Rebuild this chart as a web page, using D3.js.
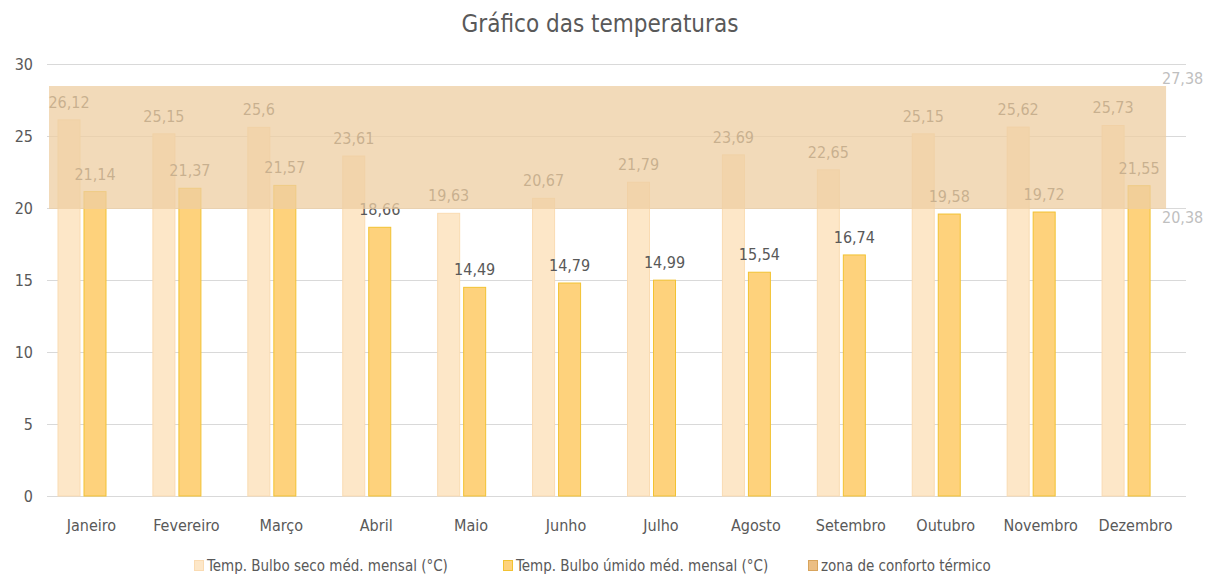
<!doctype html>
<html>
  <head>
    <meta charset="utf-8">
    <title>Gráfico das temperaturas</title>
    <script src="https://cdnjs.cloudflare.com/ajax/libs/d3/7.8.5/d3.min.js"></script>
    <style>
      body { margin: 0; background: #fff; }
      svg text { font-family: "Liberation Sans Narrow", "DejaVu Sans Condensed", "Open Sans", sans-serif; }
    </style>
  </head>
  <body>
    <div id="root"></div>
    <script>
      // data
      let months = ['Janeiro','Fevereiro','Março','Abril','Maio','Junho','Julho','Agosto','Setembro','Outubro','Novembro','Dezembro'];
      let bulboSeco = [26.12,25.15,25.6,23.61,19.63,20.67,21.79,23.69,22.65,25.15,25.62,25.73];
      let bulboUmido = [21.14,21.37,21.57,18.66,14.49,14.79,14.99,15.54,16.74,19.58,19.72,21.55];
      let zona = [20.38,27.38];
      let yTicks = [0,5,10,15,20,25,30];
      let legendNames = ['Temp. Bulbo seco méd. mensal (°C)','Temp. Bulbo úmido méd. mensal (°C)','zona de conforto térmico'];

      let width = 1213, height = 581,
      margin = {top:64,right:27,bottom:85,left:47};

      let fmt = d => String(d).replace('.', ',');

      let svg = d3.select('#root')
        .append('svg')
        .attr('width',width)
        .attr('height',height);

      //x scale by month
      let xScale = d3.scaleBand()
        .domain(months)
        .range([margin.left,width - margin.right]);

      //y scale
      let yScale = d3.scaleLinear()
        .domain([0,30])
        .range([height - margin.bottom, margin.top]);

      //secondary scale of the comfort zone
      let y2Scale = d3.scaleLinear()
        .domain(zona)
        .range([209,86]);

      //title
      svg.append('text')
        .attr('x',600)
        .attr('y',32)
        .attr('text-anchor','middle')
        .attr('font-size',24)
        .attr('fill','#595959')
        .text('Gráfico das temperaturas');

      //grid lines
      svg.append('g')
        .selectAll('line')
        .data(yTicks)
        .enter()
        .append('line')
        .attr('x1',margin.left)
        .attr('x2',width - margin.right)
        .attr('y1',d => yScale(d) + 0.5)
        .attr('y2',d => yScale(d) + 0.5)
        .attr('stroke','#d9d9d9');

      //y tick labels
      svg.append('g')
        .selectAll('text')
        .data(yTicks)
        .enter()
        .append('text')
        .attr('x',33)
        .attr('y',d => yScale(d))
        .attr('dy','0.35em')
        .attr('text-anchor','end')
        .attr('font-size',16)
        .attr('fill','#595959')
        .text(d => d);

      let bw = 22;
      let offSeco = 11, offUmido = 37;

      //dry bulb bars
      svg.append('g')
        .selectAll('rect')
        .data(bulboSeco)
        .enter()
        .append('rect')
        .attr('x',(d,i) => xScale(months[i]) + offSeco)
        .attr('y',d => yScale(d))
        .attr('width',bw)
        .attr('height',d => yScale(0) - yScale(d))
        .attr('fill','#fde7c8')
        .attr('stroke','#fadbb2');

      //wet bulb bars
      svg.append('g')
        .selectAll('rect')
        .data(bulboUmido)
        .enter()
        .append('rect')
        .attr('x',(d,i) => xScale(months[i]) + offUmido)
        .attr('y',d => yScale(d))
        .attr('width',bw)
        .attr('height',d => yScale(0) - yScale(d))
        .attr('fill','#fed27c')
        .attr('stroke','#f2c232');

      //value labels
      svg.append('g')
        .selectAll('text')
        .data(bulboSeco)
        .enter()
        .append('text')
        .attr('x',(d,i) => xScale(months[i]) + offSeco + bw/2)
        .attr('y',d => yScale(d) - 12)
        .attr('text-anchor','middle')
        .attr('font-size',16)
        .attr('fill','#595959')
        .text(fmt);

      svg.append('g')
        .selectAll('text')
        .data(bulboUmido)
        .enter()
        .append('text')
        .attr('x',(d,i) => xScale(months[i]) + offUmido + bw/2)
        .attr('y',d => yScale(d) - 12)
        .attr('text-anchor','middle')
        .attr('font-size',16)
        .attr('fill','#595959')
        .text(fmt);

      //comfort zone band, drawn on top
      svg.append('rect')
        .attr('x',xScale(months[0]) + 2)
        .attr('y',y2Scale(zona[1]))
        .attr('width',xScale(months[11]) + xScale.bandwidth()*0.79 - xScale(months[0]) - 2)
        .attr('height',y2Scale(zona[0]) - y2Scale(zona[1]))
        .attr('fill','rgb(238,206,162)')
        .attr('fill-opacity',0.75);

      //zone labels
      svg.append('g')
        .selectAll('text')
        .data(zona)
        .enter()
        .append('text')
        .attr('x',1162)
        .attr('y',(d,i) => i === 0 ? y2Scale(d) + 14 : y2Scale(d) - 2)
        .attr('font-size',16)
        .attr('fill','#bfbfbf')
        .text(fmt);

      //month labels
      svg.append('g')
        .selectAll('text')
        .data(months)
        .enter()
        .append('text')
        .attr('x',d => xScale(d) + xScale.bandwidth()/2 - 3)
        .attr('y',531)
        .attr('text-anchor','middle')
        .attr('font-size',16)
        .attr('fill','#595959')
        .text(d => d);

      //legend
      let legendX = [194,503,808];
      let swatch = [['#fde7c8','#fadbb2'],['#fed27c','#f2c232'],['#ebbe84','#d8a45c']];
      let legend = svg.append('g')
        .selectAll('g')
        .data(legendNames)
        .enter()
        .append('g')
        .attr('transform',(d,i) => 'translate(' + [legendX[i],566] + ')');
      legend.append('rect')
        .attr('x',0.5)
        .attr('y',-5.5)
        .attr('width',9)
        .attr('height',10)
        .attr('fill',(d,i) => swatch[i][0])
        .attr('stroke',(d,i) => swatch[i][1]);
      legend.append('text')
        .attr('x',13)
        .attr('y',0)
        .attr('dy','0.35em')
        .attr('font-size',15)
        .attr('fill','#595959')
        .text(d => d);
    </script>
  </body>
</html>
